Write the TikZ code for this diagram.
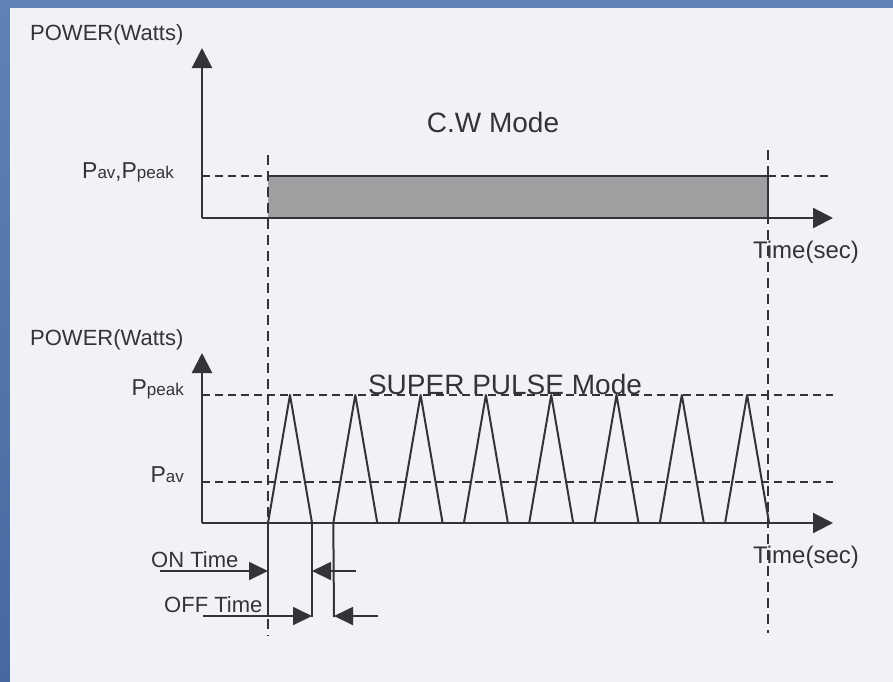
\documentclass[tikz,border=0pt]{standalone}
\usepackage{fontspec}
\setmainfont{Liberation Sans}
\usetikzlibrary{arrows.meta}
\definecolor{ink}{RGB}{52,52,56}
\definecolor{paper}{RGB}{240,242,246}
\definecolor{frameA}{RGB}{96,130,180}
\definecolor{frameB}{RGB}{70,105,160}
\definecolor{cwfill}{RGB}{160,158,160}
\newcommand{\pwr}[1]{{\fontsize{23}{24}\selectfont P}{\fontsize{17}{20}\selectfont #1}}

\begin{document}
\begin{tikzpicture}[
		x=1pt, y=-1pt,
		axis/.style = {draw=ink, line width=2.2pt, -{Triangle[length=20pt, width=20pt]}},
		level/.style = {draw=ink, line width=1.8pt, dash pattern=on 8pt off 5pt},
		guide/.style = {draw=ink, line width=1.5pt, dash pattern=on 10pt off 6pt},
		wave/.style = {draw=ink, line width=2pt, line join=round},
		arrow/.style = {draw=ink, line width=1.8pt, -{Triangle[length=19pt, width=18pt]}},
		label/.style = {text=ink, inner sep=0pt, font=\fontsize{22}{24}\selectfont},
		title/.style = {text=ink, inner sep=0pt, font=\fontsize{28}{30}\selectfont}
		]
		
		% frame
		\useasboundingbox (0,0) rectangle (893,681);
		\shade[top color=frameA, bottom color=frameB] (-2,-2) rectangle (895,683);
		\fill[paper] (10,8) rectangle (900,690);
		
		% C.W mode
		\coordinate (O1) at (202,218);
		\coordinate (Y1) at (202,48);
		\coordinate (X1) at (833,218);
		\coordinate (L1) at (202,176);
		\coordinate (R1) at (833,176);
		\coordinate (cwA) at (268,176);
		\coordinate (cwB) at (768,218);
		\coordinate (cwC) at (768,176);
		
		\fill[cwfill] (cwA) rectangle (cwB);
		\draw[wave] (cwA) -- (cwC) -- (cwB);
		\draw[level] (L1) -- (cwA);
		\draw[level] (cwC) -- (R1);
		\draw[axis] (O1) -- (X1);
		\draw[axis] (O1) -- (Y1);
		
		\node[label, anchor=west] (pw1) at (30,35) {POWER(Watts)};
		\node[label, anchor=base east] (pboth) at (174,178) {\pwr{av},\pwr{peak}};
		\node[title] (cw) at (493,122) {C.W Mode};
		\node[label, anchor=base, font=\fontsize{24}{26}\selectfont] (t1) at (806,258) {Time(sec)};
		
		% super pulse mode
		\coordinate (O2) at (202,523);
		\coordinate (Y2) at (202,353);
		\coordinate (X2) at (833,523);
		\coordinate (pkL) at (202,395);
		\coordinate (pkR) at (833,395);
		\coordinate (avL) at (202,482);
		\coordinate (avR) at (833,482);
		
		\draw[level] (pkL) -- (pkR);
		\draw[level] (avL) -- (avR);
		\foreach \k in {0,...,7}{
			\coordinate (a\k) at ({268+65.3*\k},523);
			\coordinate (b\k) at ({290+65.3*\k},395);
			\coordinate (c\k) at ({312+65.3*\k},523);
			\draw[wave] (a\k) -- (b\k) -- (c\k);
		}
		\draw[axis] (O2) -- (X2);
		\draw[axis] (O2) -- (Y2);
		
		\node[label, anchor=west] (pw2) at (30,340) {POWER(Watts)};
		\node[label, anchor=base east] (ppeak) at (184,395) {\pwr{peak}};
		\node[label, anchor=base east] (pav) at (184,482) {\pwr{av}};
		\node[title, anchor=base] (sp) at (505,394) {SUPER PULSE Mode};
		\node[label, anchor=base, font=\fontsize{24}{26}\selectfont] (t2) at (806,563) {Time(sec)};
		
		% guides
		\coordinate (g1) at (268,155);
		\coordinate (g2) at (268,636);
		\coordinate (g3) at (768,150);
		\coordinate (g4) at (768,633);
		\draw[guide] (g1) -- (g2);
		\draw[guide] (g3) -- (g4);
		
		% on / off time
		\coordinate (e0) at (268,617);
		\coordinate (e1) at (312,617);
		\coordinate (e2) at (334,617);
		\draw[wave] (a0) -- (e0);
		\draw[wave] (c0) -- (e1);
		\draw[wave] (a1) -- (e2);
		
		\coordinate (on0) at (160,571);
		\coordinate (on1) at (268,571);
		\coordinate (on2) at (356,571);
		\coordinate (on3) at (312,571);
		\coordinate (off0) at (203,616);
		\coordinate (off1) at (312,616);
		\coordinate (off2) at (378,616);
		\coordinate (off3) at (334,616);
		\draw[arrow] (on0) -- (on1);
		\draw[arrow] (on2) -- (on3);
		\draw[arrow] (off0) -- (off1);
		\draw[arrow] (off2) -- (off3);
		
		\node[label, anchor=base west] (ont) at (151,567) {ON Time};
		\node[label, anchor=base west] (offt) at (164,612) {OFF Time};
	\end{tikzpicture}
\end{document}
